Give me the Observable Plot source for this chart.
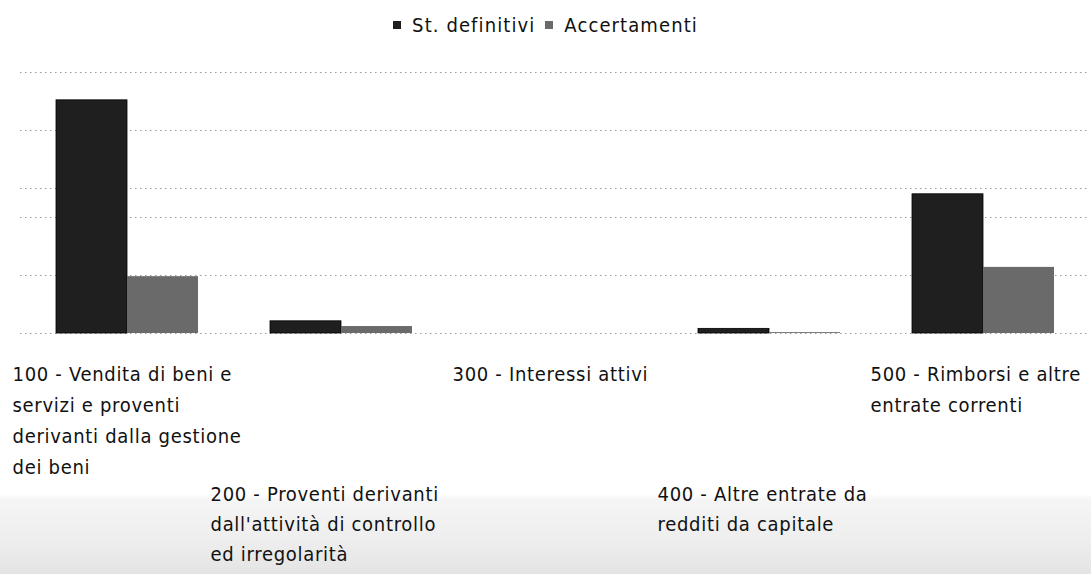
<!DOCTYPE html>
<html>
<head>
<meta charset="utf-8">
<script src="https://cdn.jsdelivr.net/npm/d3@7"></script>
<script src="https://cdn.jsdelivr.net/npm/@observablehq/plot@0.6"></script>
<style>
  html, body { margin: 0; padding: 0; }
  body {
    width: 1091px; height: 574px; overflow: hidden;
    font-family: "DejaVu Sans Condensed", "DejaVu Sans", sans-serif;
    background: linear-gradient(to bottom, #ffffff 0px, #ffffff 494px, #f5f5f5 500px, #eeeeee 540px, #e4e4e4 574px);
  }
  #legend {
    height: 45px; box-sizing: border-box; padding-top: 5px;
    display: flex; align-items: center; justify-content: center;
    font-size: 20px; letter-spacing: 1.1px; color: #111;
  }
  #legend .sw { display: inline-block; width: 8px; height: 8px; margin-right: 11px; }
  #legend .item { display: flex; align-items: center; margin: 0 5px; }
  #chart svg { display: block; background: transparent; }
  #chart text { letter-spacing: 0.7px; }
</style>
</head>
<body>
<div id="legend"></div>
<div id="chart"></div>
<script>
const categories = ["100", "200", "300", "400", "500"];
const categoryLabels = [
  "100 - Vendita di beni e\nservizi e proventi\nderivanti dalla gestione\ndei beni",
  "200 - Proventi derivanti\ndall'attività di controllo\ned irregolarità",
  "300 - Interessi attivi",
  "400 - Altre entrate da\nredditi da capitale",
  "500 - Rimborsi e altre\nentrate correnti"
];
const seriesNames = ["St. definitivi", "Accertamenti"];
const stDefinitivi = [4.02, 0.21, 0, 0.08, 2.4];
const accertamenti = [0.98, 0.12, 0, 0.015, 1.14];
const gridTicks = [0, 1, 2, 2.5, 3.5, 4.5];

const colors = ["#1f1f1f", "#6a6a6a"];

// legend
const legend = document.getElementById("legend");
seriesNames.forEach((name, i) => {
  const it = document.createElement("span");
  it.className = "item";
  const sw = document.createElement("span");
  sw.className = "sw";
  sw.style.background = colors[i];
  it.appendChild(sw);
  it.appendChild(document.createTextNode(name));
  legend.appendChild(it);
});

const table = categories.map((c, i) => ({cat: c, st: stDefinitivi[i], acc: accertamenti[i], label: categoryLabels[i]}));

// horizontal shift of each label block relative to the band centre, and its row
const labelShift = [-115, -131, -103, -112, -113];
const labelRow = [0, 1, 0, 1, 0];

const labelMarks = table.map((d, i) => Plot.text([d], {
  x: "cat", y: 0, text: "label",
  textAnchor: "start", lineAnchor: "top",
  dx: labelShift[i], dy: labelRow[i] === 0 ? 25 : 146,
  lineHeight: labelRow[i] === 0 ? 1.56 : 1.5, fill: "#111", fontSize: 20
}));

const chart = Plot.plot({
  width: 1091, height: 529,
  marginTop: 27, marginBottom: 241, marginLeft: 20, marginRight: 1,
  style: {fontFamily: "'DejaVu Sans Condensed', 'DejaVu Sans', sans-serif", background: "transparent", overflow: "visible"},
  x: {domain: categories, paddingInner: 0.336, paddingOuter: 0.168, axis: null},
  y: {domain: [0, 4.5], axis: null},
  marks: [
    Plot.ruleY(gridTicks, {stroke: "#9a9a9a", strokeDasharray: "1.5,3.5", strokeWidth: 1}),
    Plot.barY(table, {x: "cat", y: "st", fill: colors[0], stroke: "#000", strokeWidth: 0.8, insetRight: 71}),
    Plot.barY(table, {x: "cat", y: "acc", fill: colors[1], insetLeft: 71}),
    ...labelMarks
  ]
});
document.getElementById("chart").appendChild(chart);
</script>
</body>
</html>
